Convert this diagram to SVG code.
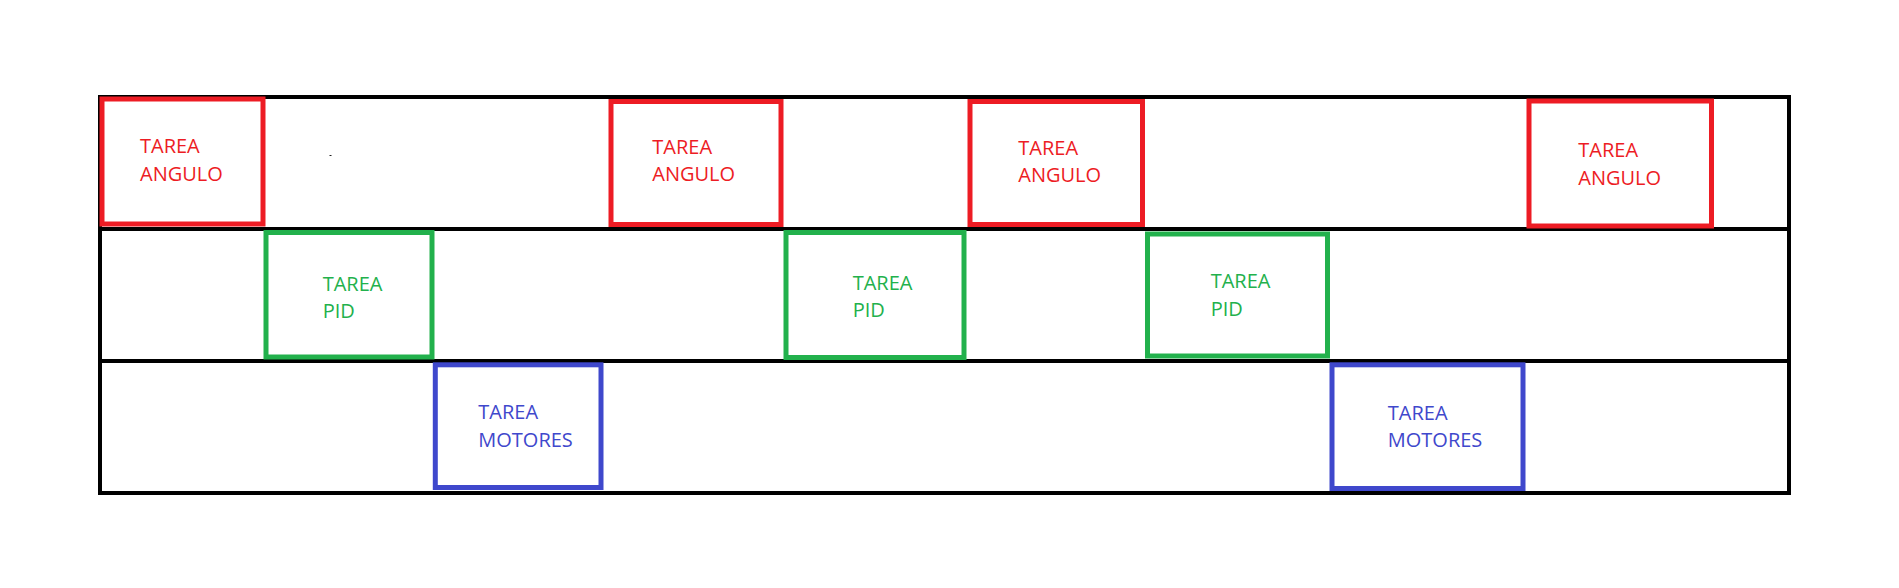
<svg xmlns="http://www.w3.org/2000/svg" width="1899" height="588" viewBox="0 0 1899 588">
<style>
.frame{fill:none;stroke:#000;stroke-width:4}
.box{fill:none;stroke-width:5}
.r{stroke:#ED1C24}.g{stroke:#22B14C}.b{stroke:#3F48CC}
text{font-family:"Open Sans","Noto Sans","DejaVu Sans",sans-serif;font-size:20px}
.rt{fill:#ED1C24}.gt{fill:#22B14C}.bt{fill:#3F48CC}
</style>
<rect width="1899" height="588" fill="#fff"/>
<g id="frame">
<rect class="frame" x="100" y="97" width="1689" height="396"/>
<line class="frame" x1="100" y1="229" x2="1789" y2="229"/>
<line class="frame" x1="100" y1="361" x2="1789" y2="361"/>
<rect x="329.5" y="155" width="2" height="1" fill="#222"/>
</g>
<g id="connectors"></g>
<g id="angulo1"><rect class="box r" x="102" y="99" width="161" height="125"/><text class="rt" x="140" y="153.3">TAREA</text><text class="rt" x="140" y="181">ANGULO</text></g>
<g id="angulo2"><rect class="box r" x="611" y="101.5" width="170" height="123"/><text class="rt" x="652.3" y="154">TAREA</text><text class="rt" x="652.3" y="181">ANGULO</text></g>
<g id="angulo3"><rect class="box r" x="970" y="101.5" width="172.5" height="123"/><text class="rt" x="1018.3" y="155">TAREA</text><text class="rt" x="1018.3" y="182.3">ANGULO</text></g>
<g id="angulo4"><rect class="box r" x="1529" y="101" width="182.5" height="125"/><text class="rt" x="1578.3" y="156.7">TAREA</text><text class="rt" x="1578.3" y="185">ANGULO</text></g>
<g id="pid1"><rect class="box g" x="266" y="232.5" width="166" height="124.5"/><text class="gt" x="322.7" y="290.7">TAREA</text><text class="gt" x="322.7" y="318.3">PID</text></g>
<g id="pid2"><rect class="box g" x="786" y="232.5" width="178" height="125"/><text class="gt" x="852.7" y="290">TAREA</text><text class="gt" x="852.7" y="317.3">PID</text></g>
<g id="pid3"><rect class="box g" x="1147.5" y="234" width="180" height="122"/><text class="gt" x="1210.7" y="287.7">TAREA</text><text class="gt" x="1210.7" y="315.7">PID</text></g>
<g id="motores1"><rect class="box b" x="435.3" y="364.8" width="165.7" height="122.7"/><text class="bt" x="478.3" y="419.3">TAREA</text><text class="bt" x="478.3" y="446.7">MOTORES</text></g>
<g id="motores2"><rect class="box b" x="1332" y="364.8" width="191" height="123.7"/><text class="bt" x="1387.8" y="420">TAREA</text><text class="bt" x="1387.8" y="447.3">MOTORES</text></g>
</svg>
